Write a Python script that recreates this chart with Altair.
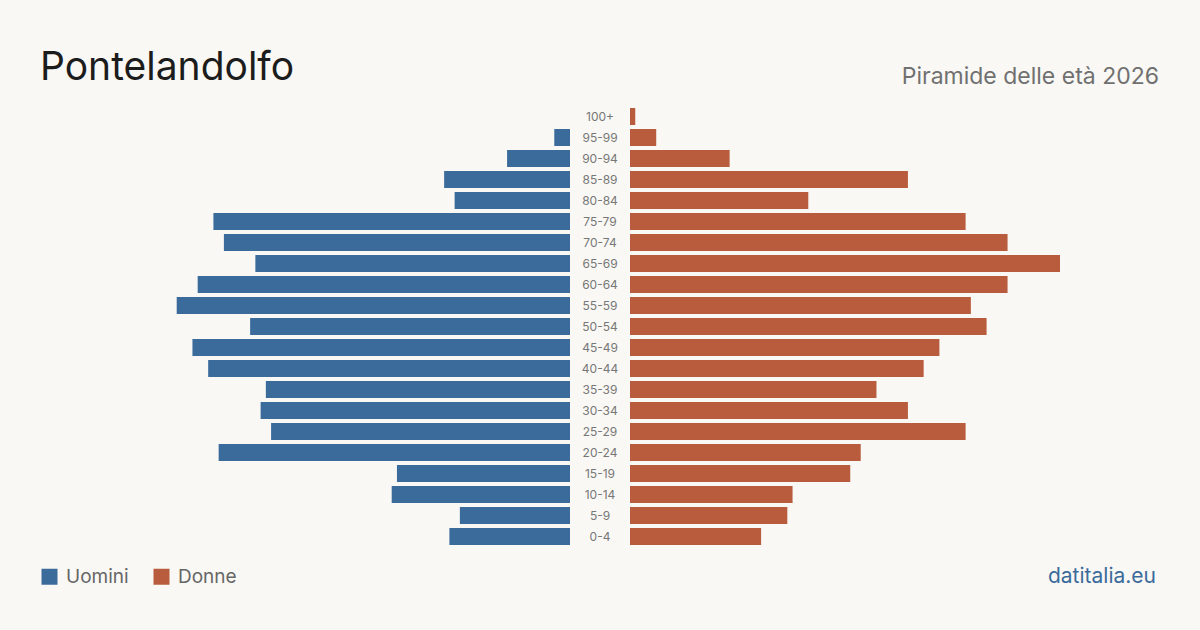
import altair as alt
import pandas as pd

# ---- data ----
ages = ["100+", "95-99", "90-94", "85-89", "80-84", "75-79", "70-74", "65-69",
        "60-64", "55-59", "50-54", "45-49", "40-44", "35-39", "30-34", "25-29",
        "20-24", "15-19", "10-14", "5-9", "0-4"]
uomini = [0, 3, 12, 24, 22, 68, 66, 60, 71, 75, 61, 72, 69, 58, 59, 57, 67, 33, 34, 21, 23]
donne = [1, 5, 19, 53, 34, 64, 72, 82, 72, 65, 68, 59, 56, 47, 53, 64, 44, 42, 31, 30, 25]
sexes = ["Uomini", "Donne"]
colors = ["#3b6b9b", "#b95c3d"]

title_text = "Pontelandolfo"
subtitle_text = "Piramide delle età 2026"
source_text = "datitalia.eu"

rows = []
for a, m, f in zip(ages, uomini, donne):
    rows.append({"eta": a, "sesso": "Uomini", "valore": m})
    rows.append({"eta": a, "sesso": "Donne", "valore": f})
df = pd.DataFrame(rows)

FONT = "Inter"
W, H = 1200, 630
maxv = max(max(uomini), max(donne))

xscale = alt.Scale(domain=[-maxv, maxv], range=[170, 1030])
yscale = alt.Scale(domain=ages, range=[106, 547], paddingInner=0.19, paddingOuter=0.095)
cscale = alt.Scale(domain=sexes, range=colors)

base = alt.Chart(df)

color_enc = alt.Color(
    "sesso:N", scale=cscale,
    legend=alt.Legend(
        title=None, orient="none", legendX=40, legendY=567, direction="horizontal",
        columns=2, symbolType="square", symbolSize=256, symbolStrokeWidth=0,
        symbolOpacity=1, labelFontSize=19, labelFont=FONT, labelColor="#666666",
        labelOffset=7, columnPadding=23, labelLimit=200,
    ),
)

men = base.transform_filter(alt.datum.sesso == "Uomini").transform_calculate(
    neg="-datum.valore", zero="0"
).mark_bar(xOffset=-30, x2Offset=-30).encode(
    x=alt.X("neg:Q", scale=xscale, axis=None),
    x2="zero:Q",
    y=alt.Y("eta:N", scale=yscale, axis=None, sort=ages),
    color=color_enc,
)

women = base.transform_filter(alt.datum.sesso == "Donne").transform_calculate(
    zero="0"
).mark_bar(xOffset=30, x2Offset=30).encode(
    x=alt.X("valore:Q", scale=xscale, axis=None),
    x2="zero:Q",
    y=alt.Y("eta:N", scale=yscale, axis=None, sort=ages),
    color=color_enc,
)

labels = alt.Chart(pd.DataFrame({"eta": ages})).mark_text(
    font=FONT, fontSize=12, color="#777777", align="center", baseline="middle"
).encode(
    x=alt.datum(0, scale=xscale),
    y=alt.Y("eta:N", scale=yscale, axis=None, sort=ages),
    text="eta:N",
)

title = alt.Chart(pd.DataFrame({"t": [title_text]})).mark_text(
    font=FONT, fontSize=39, color="#1c1c1c", align="left", baseline="alphabetic"
).encode(x=alt.value(40), y=alt.value(80), text="t:N")

subtitle = alt.Chart(pd.DataFrame({"t": [subtitle_text]})).mark_text(
    font=FONT, fontSize=23, color="#707070", align="right", baseline="alphabetic"
).encode(x=alt.value(1159), y=alt.value(84), text="t:N")

source = alt.Chart(pd.DataFrame({"t": [source_text]})).mark_text(
    font=FONT, fontSize=21, color="#3b6b9b", align="right", baseline="alphabetic"
).encode(x=alt.value(1156), y=alt.value(583), text="t:N")

chart = alt.layer(men, women, labels, title, subtitle, source).properties(
    width=W, height=H, autosize=alt.AutoSizeParams(type="none"), padding=0,
    background="#f9f8f4",
).configure_view(stroke=None)

chart.save("out.html", embed_options={"renderer": "svg", "actions": False})
